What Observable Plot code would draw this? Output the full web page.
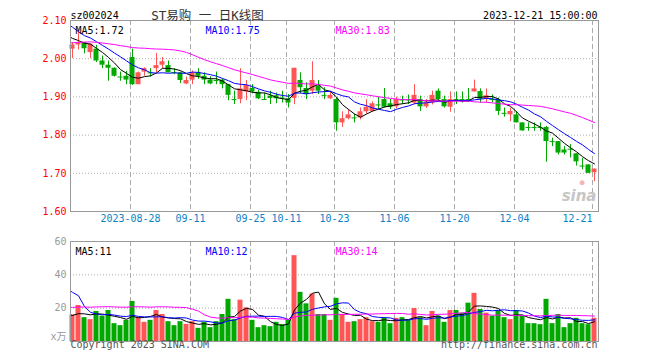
<!DOCTYPE html>
<html><head><meta charset="utf-8">
<script src="https://cdn.jsdelivr.net/npm/d3@7"></script>
<script src="https://cdn.jsdelivr.net/npm/@observablehq/plot@0.6"></script>
<style>
body{margin:0;background:#fff}
#c{position:relative;width:660px;height:360px;overflow:hidden;background:#fff}
#c svg{position:absolute;left:0}
</style></head><body><div id="c"></div>
<script>
// ---- data ----
const dates = ["08-14","08-15","08-16","08-17","08-18","08-21","08-22","08-23","08-24","08-25","08-28","08-29","08-30","08-31",
"09-01","09-04","09-05","09-06","09-07","09-08","09-11","09-12","09-13","09-14","09-15","09-18","09-19","09-20","09-21","09-22","09-25","09-26","09-27","09-28",
"10-09","10-10","10-11","10-12","10-13","10-16","10-17","10-18","10-19","10-20","10-23","10-24","10-25","10-26","10-27","10-30","10-31",
"11-01","11-02","11-03","11-06","11-07","11-08","11-09","11-10","11-13","11-14","11-15","11-16","11-17","11-20","11-21","11-22","11-23","11-24","11-27","11-28","11-29","11-30",
"12-01","12-04","12-05","12-06","12-07","12-08","12-11","12-12","12-13","12-14","12-15","12-18","12-19","12-20","12-21"];
const open  = [2.025,2.036,2.042,2.016,2.025,1.994,1.983,1.975,1.953,1.954,2.003,1.932,1.965,1.964,1.974,1.983,1.982,1.965,1.963,1.934,1.944,1.963,1.954,1.944,1.944,1.944,1.932,1.894,1.893,1.913,
1.922,1.912,1.894,1.902,1.903,1.898,1.895,1.896,1.943,1.922,1.915,1.928,1.905,1.895,1.893,1.832,1.843,1.846,1.845,1.861,1.862,1.880,1.893,1.882,1.874,1.893,1.893,1.884,1.893,1.874,
1.884,1.915,1.893,1.873,1.894,1.894,1.894,1.913,1.914,1.894,1.894,1.893,1.858,1.853,1.853,1.832,1.821,1.821,1.821,1.820,1.784,1.783,1.761,1.764,1.751,1.720,1.722,1.702];
const high  = [2.042,2.073,2.042,2.038,2.035,2.007,1.994,1.976,1.965,1.967,2.025,1.965,1.976,1.974,2.014,2.003,1.994,1.974,1.965,1.952,1.968,1.974,1.963,1.953,1.965,1.946,1.932,1.915,1.974,1.943,
1.932,1.917,1.910,1.915,1.910,1.915,1.906,1.975,1.963,1.937,1.992,1.943,1.924,1.913,1.897,1.861,1.867,1.854,1.871,1.893,1.887,1.899,1.922,1.893,1.899,1.902,1.905,1.932,1.902,1.893,
1.915,1.921,1.902,1.913,1.913,1.913,1.922,1.944,1.921,1.921,1.905,1.897,1.871,1.871,1.862,1.832,1.832,1.832,1.832,1.823,1.792,1.783,1.770,1.775,1.751,1.739,1.722,1.711];
const low   = [2.000,2.023,2.013,2.000,1.990,1.974,1.941,1.952,1.941,1.932,1.930,1.932,1.954,1.952,1.963,1.974,1.963,1.958,1.935,1.932,1.932,1.946,1.932,1.932,1.932,1.921,1.890,1.880,1.882,1.890,
1.908,1.893,1.891,1.880,1.882,1.884,1.871,1.880,1.908,1.893,1.906,1.906,1.893,1.893,1.810,1.820,1.840,1.832,1.840,1.855,1.860,1.867,1.871,1.867,1.869,1.880,1.880,1.879,1.862,1.870,
1.879,1.888,1.871,1.860,1.880,1.884,1.887,1.913,1.884,1.884,1.884,1.851,1.847,1.835,1.832,1.810,1.810,1.810,1.810,1.729,1.770,1.748,1.748,1.740,1.719,1.709,1.700,1.678];
const close = [2.036,2.041,2.026,2.038,1.994,1.983,1.975,1.954,1.952,1.944,1.932,1.963,1.974,1.963,1.982,1.992,1.963,1.964,1.943,1.943,1.963,1.954,1.944,1.934,1.943,1.932,1.904,1.893,1.921,1.930,
1.913,1.895,1.893,1.896,1.895,1.897,1.884,1.975,1.924,1.906,1.943,1.915,1.904,1.904,1.832,1.843,1.853,1.845,1.861,1.873,1.882,1.879,1.873,1.873,1.893,1.892,1.892,1.904,1.874,1.884,
1.904,1.893,1.874,1.893,1.893,1.893,1.893,1.921,1.894,1.903,1.893,1.862,1.857,1.862,1.832,1.811,1.820,1.820,1.820,1.783,1.783,1.753,1.753,1.763,1.730,1.719,1.700,1.711];
const volume = [16.0,21.6,14.3,13.1,18.0,15.2,18.6,10.7,9.5,12.7,24.0,14.3,11.5,12.7,18.6,16.2,11.9,9.5,11.9,10.3,11.9,7.9,11.5,8.3,11.9,16.2,25.3,13.1,24.8,20.2,
12.7,8.3,9.5,8.9,11.5,10.1,12.7,51.5,29.5,22.6,28.5,16.2,16.2,12.7,25.9,16.2,11.5,11.9,13.1,14.3,11.9,11.5,14.3,10.7,13.9,14.3,12.7,19.8,14.3,9.5,
18.0,15.2,11.5,18.6,18.6,17.0,23.0,28.9,19.2,17.0,15.2,18.6,14.3,13.1,18.6,15.2,10.7,10.7,10.1,25.3,10.7,16.2,8.3,10.7,13.9,10.7,10.1,13.9];
// closes / volumes of the 29 sessions before the window, estimated from where the MA lines enter the chart
const leadCloses  = [2.00,2.01,2.02,2.03,2.04,2.03,2.02,2.03,2.02,2.01,2.00,1.99,2.00,2.01,2.00,1.99,2.00,2.02,2.06,2.14,2.16,2.13,2.10,2.09,2.08,2.07,2.06,2.05,2.05];
const leadVolumes = [15,13,16,14,12,17,15,14,13,16,15,14,17,13,15,14,16,14,15,40,42,79,48,28,20,16,15,16,15];
const tickDates  = ["08-28","09-11","09-25","10-11","10-23","11-06","11-20","12-04","12-21"];
const tickLabels = ["2023-08-28","09-11","09-25","10-11","10-23","11-06","11-20","12-04","12-21"];
const priceTicks = [1.6,1.7,1.8,1.9,2.0,2.1];
const priceGrid  = [1.7,1.8,1.9,2.0];
const volTicks   = [20,40,60];
const volGrid    = [20,40];
const maNames    = ["MA5","MA10","MA30"];
const maWindows  = [5,10,30];
const priceMaText = ["1.72","1.75","1.83"];
const volMaText   = ["11","12","14"];
const titleCode = "sz002024", titleName = "ST易购 一 日K线图", stamp = "2023-12-21 15:00:00";

// ---- styles ----
const UP = "#ff5555", DOWN = "#00a800", GRID = "#aaaaaa";
const maColors = ["#000000","#0000ff","#ff00ff"];
const FONT = "DejaVu Sans Mono, Noto Sans CJK SC, monospace";

const candles = dates.map((d, i) => ({i, d, o: open[i], h: high[i], l: low[i], c: close[i], v: volume[i], up: close[i] >= open[i]}));
const bodies = candles.filter(d => Math.abs(d.o - d.c) >= 0.0025);
const dojis  = candles.filter(d => Math.abs(d.o - d.c) < 0.0025);
const N = dates.length;
const priceSeries = leadCloses.concat(close).map((v, j) => ({x: j - leadCloses.length + 1/3, v}));
const volSeries   = leadVolumes.concat(volume).map((v, j) => ({x: j - leadVolumes.length + 1/3, v}));
const gridIdx = tickDates.map(d => dates.indexOf(d));
const ticks = tickDates.map((d, k) => ({x: dates.indexOf(d), label: tickLabels[k], last: k === tickDates.length - 1}));
const col = d => d.up ? UP : DOWN;

function maLines(series) {
  return maWindows.map((k, m) => Plot.lineY(series, Plot.windowY({k, anchor: "end"}, {x: "x", y: "v", stroke: maColors[m], strokeWidth: 1, clip: true})));
}
function maLabels(texts) {
  return maNames.map((n, m) => Plot.text([n + ":" + texts[m]], {frameAnchor: "top-left", dx: 5 + 130 * m, dy: 6, textAnchor: "start", fill: maColors[m], fontSize: 10}));
}

const price = Plot.plot({
  width: 660, height: 230, marginLeft: 70, marginRight: 62, marginTop: 20, marginBottom: 19,
  x: {type: "linear", domain: [0, N], axis: null},
  y: {domain: [1.6, 2.1], axis: null},
  style: {fontFamily: FONT, fontSize: "10px", background: "transparent", overflow: "visible"},
  marks: [
    Plot.ruleY(priceGrid, {stroke: GRID, strokeDasharray: "1,2"}),
    Plot.ruleX(gridIdx, {stroke: GRID, strokeDasharray: "5,3"}),
    Plot.text(["sina"], {frameAnchor: "bottom-right", dx: -2, dy: -11, textAnchor: "end", fill: "#c6c6c6", fontSize: 15, fontWeight: "bold", fontStyle: "italic", fontFamily: "DejaVu Sans"}),
    Plot.text(["●"], {frameAnchor: "bottom-right", dx: -14, dy: -27, fill: "#f4b4b4", fontSize: 8}),
    Plot.ruleX(candles, {x: d => d.i + 1/3, y1: "l", y2: "h", stroke: col, strokeWidth: 1}),
    Plot.rect(bodies, {x1: d => d.i - 1/12, x2: d => d.i + 3/4, y1: "o", y2: "c", fill: col}),
    Plot.ruleY(dojis, {y: "c", x1: d => d.i - 1/12, x2: d => d.i + 3/4, stroke: col}),
    ...maLines(priceSeries),
    Plot.frame({stroke: "#999"}),
    Plot.text(priceTicks, {y: d => d, frameAnchor: "left", dx: -4, textAnchor: "end", text: d => d.toFixed(2), fill: "#ff0000", fontSize: 10}),
    Plot.text(ticks.filter(t => !t.last), {x: "x", text: "label", frameAnchor: "bottom", dy: 10, textAnchor: "middle", fill: "#0a82c8", fontSize: 10}),
    Plot.text(ticks.filter(t => t.last), {x: "x", text: "label", frameAnchor: "bottom", dy: 10, textAnchor: "end", fill: "#0a82c8", fontSize: 10}),
    ...maLabels(priceMaText),
    Plot.text([titleCode], {frameAnchor: "top-left", dy: -9, textAnchor: "start", fill: "#000", fontSize: 10}),
    Plot.text([titleName], {frameAnchor: "top-left", dx: 137, dy: -9, textAnchor: "middle", fill: "#333", fontSize: 12.5}),
    Plot.text([stamp], {frameAnchor: "top-right", dx: -1, dy: -9, textAnchor: "end", fill: "#000", fontSize: 10})
  ]
});

const vol = Plot.plot({
  width: 660, height: 130, marginLeft: 70, marginRight: 62, marginTop: 11, marginBottom: 19,
  x: {type: "linear", domain: [0, N], axis: null},
  y: {domain: [0, 60], axis: null},
  style: {fontFamily: FONT, fontSize: "10px", background: "transparent", overflow: "visible"},
  marks: [
    Plot.ruleY(volGrid, {stroke: GRID, strokeDasharray: "1,2"}),
    Plot.ruleX(gridIdx, {stroke: GRID, strokeDasharray: "5,3"}),
    Plot.rect(candles, {x1: d => d.i - 1/12, x2: d => d.i + 3/4, y1: 0, y2: "v", fill: col}),
    ...maLines(volSeries),
    Plot.frame({stroke: "#999"}),
    Plot.text(volTicks, {y: d => d, frameAnchor: "left", dx: -4, textAnchor: "end", text: d => String(d), fill: "#999", fontSize: 10}),
    Plot.text(["x万"], {frameAnchor: "bottom-left", dx: -4, dy: -2, textAnchor: "end", fill: "#999", fontSize: 10}),
    ...maLabels(volMaText),
    Plot.text(["Copyright 2023 SINA.COM"], {frameAnchor: "bottom-left", dy: 6, textAnchor: "start", fill: "#555", fontSize: 10}),
    Plot.text(["http://finance.sina.com.cn"], {frameAnchor: "bottom-right", dx: -1, dy: 6, textAnchor: "end", fill: "#555", fontSize: 10})
  ]
});

const c = document.getElementById("c");
price.style.top = "0px";
vol.style.top = "230px";
c.appendChild(price);
c.appendChild(vol);
</script></body></html>
